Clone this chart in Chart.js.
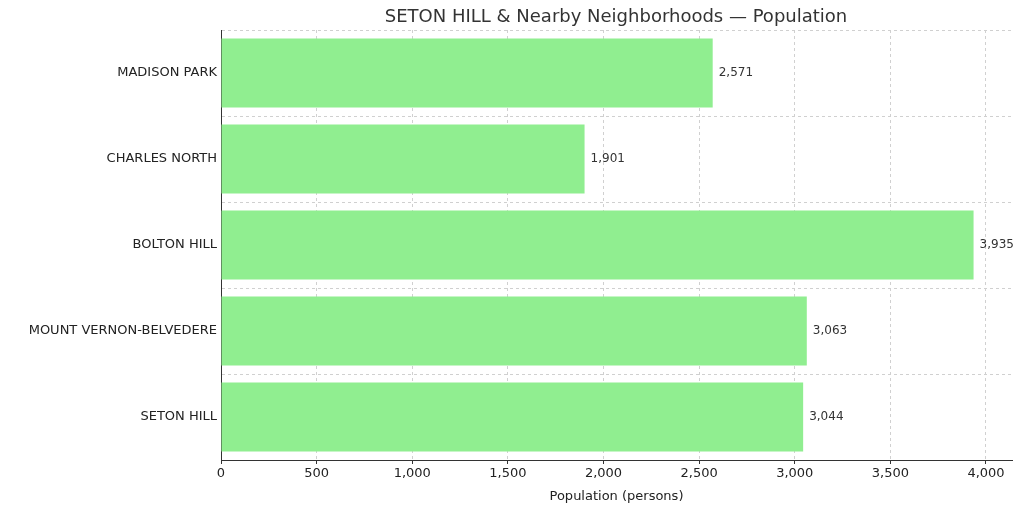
<!DOCTYPE html>
<html>
<head>
<meta charset="utf-8">
<script src="https://cdn.jsdelivr.net/npm/chart.js@4"></script>
<style>
  body { margin: 0; background: #fff; }
  #wrap { width: 1024px; height: 506px; }
</style>
</head>
<body>
<div id="wrap"><canvas id="chart" width="1024" height="506"></canvas></div>
<script>
const neighborhoods = ["MADISON PARK", "CHARLES NORTH", "BOLTON HILL", "MOUNT VERNON-BELVEDERE", "SETON HILL"];
const population = [2571, 1901, 3935, 3063, 3044];
const xTicks = [0, 500, 1000, 1500, 2000, 2500, 3000, 3500, 4000];

const FONT = "DejaVu Sans";

// titel en waardelabels zelf tekenen
const extras = {
  id: "extras",
  afterDatasetsDraw(chart) {
    const ctx = chart.ctx;
    const meta = chart.getDatasetMeta(0);
    ctx.save();
    ctx.font = "12px '" + FONT + "'";
    ctx.fillStyle = "#333";
    ctx.textAlign = "left";
    ctx.textBaseline = "middle";
    meta.data.forEach((bar, i) => {
      ctx.fillText(population[i].toLocaleString("en-US"), bar.x + 6, bar.y);
    });
    ctx.font = "18px '" + FONT + "'";
    ctx.textAlign = "center";
    ctx.fillText("SETON HILL & Nearby Neighborhoods \u2014 Population", 616, 17);
    ctx.restore();
  }
};

new Chart(document.getElementById("chart"), {
  type: "bar",
  data: {
    labels: neighborhoods,
    datasets: [{
      data: population,
      backgroundColor: "#90ee90",
      categoryPercentage: 1,
      barPercentage: 0.8,
    }],
  },
  options: {
    indexAxis: "y",
    responsive: false,
    animation: false,
    layout: { padding: { top: 30, right: 12, left: 0, bottom: 0 } },
    plugins: { legend: { display: false }, tooltip: { enabled: false } },
    scales: {
      x: {
        min: 0,
        max: 4136,
        afterBuildTicks(s) { s.ticks = xTicks.map(v => ({ value: v })); },
        afterFit(s) { s.height = 46; },
        ticks: { color: "#222", font: { family: FONT, size: 13 }, padding: 2 },
        grid: { color: "#d0d0d0", tickColor: "#333", tickLength: 4 },
        border: { color: "#333", dash: [3, 3] },
        title: { display: true, text: "Population (persons)", color: "#222", font: { family: FONT, size: 13 }, padding: 2 },
      },
      y: {
        afterFit(s) { s.width = 221; },
        ticks: { color: "#222", font: { family: FONT, size: 13 }, padding: 4 },
        grid: { color: "#d0d0d0", tickColor: "#333", tickLength: 0 },
        border: { color: "#333", dash: [3, 3] },
      },
    },
  },
  plugins: [extras],
});
</script>
</body>
</html>
